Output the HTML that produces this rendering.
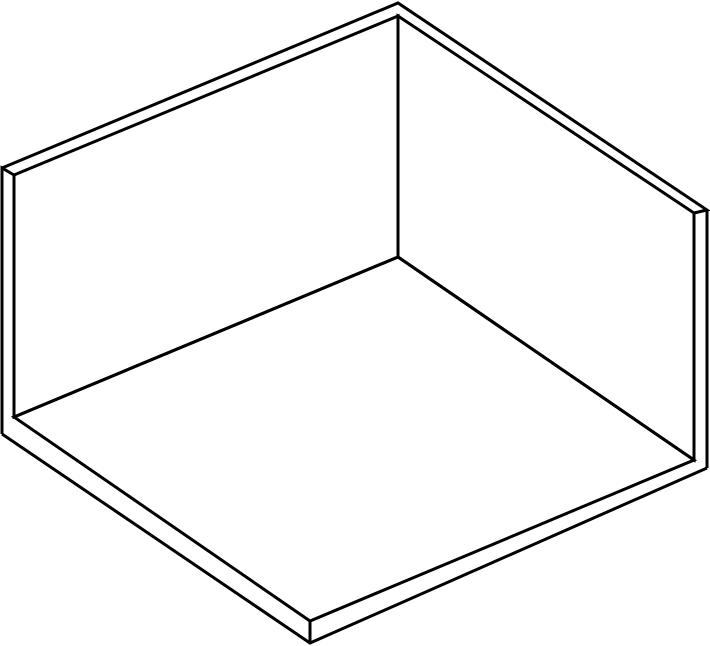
<!DOCTYPE html>
<html><head><meta charset="utf-8"><style>html,body{margin:0;padding:0;background:#fff}svg{display:block}</style></head>
<body>
<svg width="710" height="646" viewBox="0 0 710 646">
<g fill="none" stroke="#000" stroke-width="3" stroke-linejoin="miter">
<polygon points="14,175 398,16 398,257 14,417"/>
<polygon points="398,16 694,213 694,460 398,257"/>
<polygon points="14,417 398,257 694,460 310,621"/>
<polyline points="14,175 2,168 2,434"/>
<polyline points="2,168 398,3 707,210 694,213"/>
<polyline points="707,210 707,468"/>
<polyline points="2,434 310,643 707,468"/>
<line x1="310" y1="621" x2="310" y2="643"/>
</g>
</svg>
</body></html>
